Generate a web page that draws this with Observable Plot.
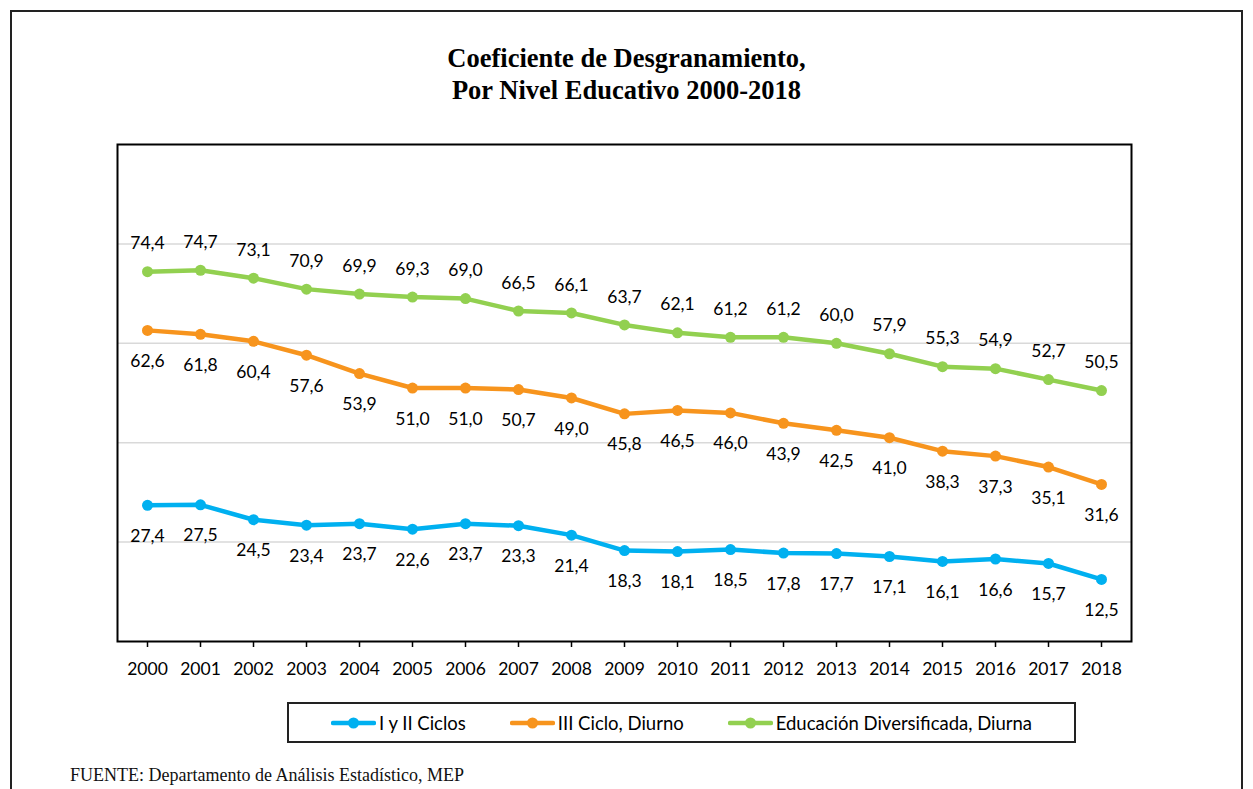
<!DOCTYPE html>
<html><head><meta charset="utf-8">
<script src="https://cdn.jsdelivr.net/npm/d3@7"></script>
<script src="https://cdn.jsdelivr.net/npm/@observablehq/plot@0.6"></script>
<style>
body{margin:0;background:#fff;width:1253px;height:789px;overflow:hidden;position:relative;font-family:Lato,sans-serif}
#outer{position:absolute;left:10px;top:10px;width:1233px;height:820px;border:2px solid #222;box-sizing:border-box}
#title{position:absolute;left:0;top:42px;width:1253px;text-align:center;font-family:"Liberation Serif","Times New Roman",serif;font-weight:bold;font-size:26.5px;line-height:32px;color:#000}
#chart{position:absolute;left:0;top:124px}
#legend{position:absolute;left:287px;top:702px;width:789px;height:41px;border:2px solid #222;box-sizing:border-box;display:flex;align-items:center;justify-content:center;gap:44px;font-family:Lato,sans-serif;font-size:18.5px;color:#000}
#legend .item{display:flex;align-items:center}
#legend span{margin-left:3px}
#caption{position:absolute;left:70px;top:764px;font-family:"Liberation Serif","Times New Roman",serif;font-size:18px;line-height:22px;color:#111}
</style></head>
<body>
<div id="outer"></div>
<div id="title">Coeficiente de Desgranamiento,<br>Por Nivel Educativo 2000-2018</div>
<div id="chart"></div>
<div id="legend"></div>
<div id="caption">FUENTE: Departamento de Análisis Estadístico, MEP</div>
<script>
const years = ["2000","2001","2002","2003","2004","2005","2006","2007","2008","2009","2010","2011","2012","2013","2014","2015","2016","2017","2018"];
const seriesNames = ["I y II Ciclos","III Ciclo, Diurno","Educación Diversificada, Diurna"];
const seriesColors = ["#00B0F0","#F7941D","#92D050"];
const cicloIyII = [27.4,27.5,24.5,23.4,23.7,22.6,23.7,23.3,21.4,18.3,18.1,18.5,17.8,17.7,17.1,16.1,16.6,15.7,12.5];
const cicloIII = [62.6,61.8,60.4,57.6,53.9,51.0,51.0,50.7,49.0,45.8,46.5,46.0,43.9,42.5,41.0,38.3,37.3,35.1,31.6];
const diversificada = [74.4,74.7,73.1,70.9,69.9,69.3,69.0,66.5,66.1,63.7,62.1,61.2,61.2,60.0,57.9,55.3,54.9,52.7,50.5];
const gridValues = [20,40,60,80];

const allSeries = [cicloIyII, cicloIII, diversificada];
const labelDy = [31, 31, -28];
const data = [];
allSeries.forEach((vals, s) => vals.forEach((v, i) => data.push({year: years[i], value: v, series: seriesNames[s], s})));
const fmt = v => v.toFixed(1).replace(".", ",");

const marks = [
  Plot.gridY(gridValues, {stroke: "#d9d9d9", strokeOpacity: 1, strokeWidth: 1.5}),
  Plot.frame({stroke: "#000", strokeWidth: 2}),
  Plot.axisX({tickSize: 6, tickPadding: 15, fontSize: 17.5, tickFormat: d => d, label: null, strokeWidth: 1.5})
];
seriesNames.forEach((name, s) => {
  const d = data.filter(r => r.s === s);
  marks.push(Plot.line(d, {x: "year", y: "value", stroke: seriesColors[s], strokeWidth: 4.5}));
  marks.push(Plot.dot(d, {x: "year", y: "value", fill: seriesColors[s], r: 5.5}));
  marks.push(Plot.text(d, {x: "year", y: "value", text: r => fmt(r.value), dy: labelDy[s], fontSize: 17.5, fill: "#000"}));
});

const chart = Plot.plot({
  width: 1253,
  height: 562,
  marginLeft: 117,
  marginRight: 122,
  marginTop: 20,
  marginBottom: 45,
  style: {fontFamily: "Lato, sans-serif", color: "#000", background: "transparent"},
  x: {type: "point", domain: years, padding: 0.5, axis: null},
  y: {domain: [0, 100], axis: null},
  marks
});
document.getElementById("chart").appendChild(chart);

const legend = document.getElementById("legend");
seriesNames.forEach((name, s) => {
  const item = document.createElement("div");
  item.className = "item";
  item.innerHTML = `<svg width="45" height="14"><line x1="2" y1="7" x2="43" y2="7" stroke="${seriesColors[s]}" stroke-width="4.5" stroke-linecap="round"/><circle cx="22.5" cy="7" r="5.5" fill="${seriesColors[s]}"/></svg><span>${name}</span>`;
  legend.appendChild(item);
});
</script>
</body></html>
